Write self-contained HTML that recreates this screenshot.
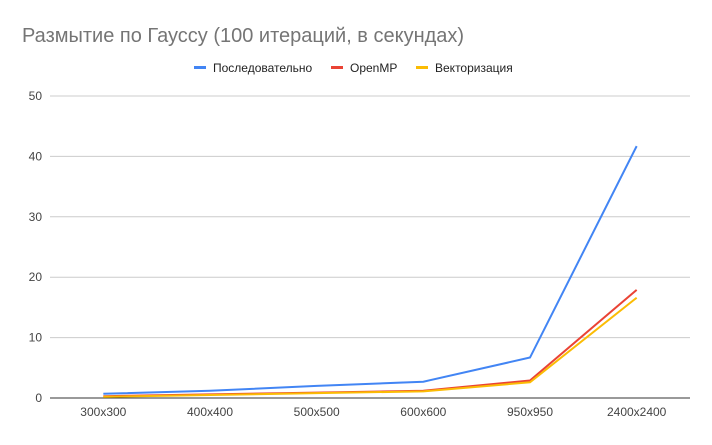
<!DOCTYPE html>
<html><head><meta charset="utf-8"><style>
body{margin:0;background:#fff;font-family:"Liberation Sans",Arial,sans-serif}
</style></head><body>
<svg width="712" height="440" xmlns="http://www.w3.org/2000/svg">
<rect width="712" height="440" fill="#fff"/>
<text x="22" y="42" font-size="20" fill="#757575" font-family="Liberation Sans, sans-serif">Размытие по Гауссу (100 итераций, в секундах)</text>
<g id="legend" font-size="12" fill="#222"></g>
<g id="grid"></g><g id="series"></g><g id="xlabels"></g>
</svg>
<script>
const categories=["300x300","400x400","500x500","600x600","950x950","2400x2400"];
const seqValues=[0.7,1.2,2.0,2.7,6.7,41.7];
const ompValues=[0.3,0.6,0.9,1.2,2.9,17.9];
const vecValues=[0.2,0.5,0.8,1.1,2.6,16.6];
const yTicks=[0,10,20,30,40,50];
const seriesNames=["Последовательно","OpenMP","Векторизация"];
const NS="http://www.w3.org/2000/svg";
const left=50,right=690,y0=398,y50=96;
const yS=v=>y0-(v/50)*(y0-y50);
const band=(right-left)/categories.length;
const xS=i=>left+band*(i+0.5);
function mk(t,a,p){const e=document.createElementNS(NS,t);for(const k in a)e.setAttribute(k,a[k]);p.appendChild(e);return e;}
const grid=document.getElementById('grid');
yTicks.forEach(t=>{
 const l=mk('line',{x1:left,x2:right,y1:yS(t),y2:yS(t),stroke:t===0?'#333':'#ccc','stroke-width':1},grid);
 
 
 const tx=mk('text',{x:42,y:yS(t)+4,'text-anchor':'end','font-size':12,fill:'#444'},grid);
 tx.textContent=t;
 
 
});
const xl=document.getElementById('xlabels');
categories.forEach((c,i)=>{
 const tx=mk('text',{x:xS(i),y:416,'text-anchor':'middle','font-size':12,fill:'#444'},xl);
 tx.textContent=c;
 
 
});
const colors=['#4285f4','#ea4335','#fbbc04'];
const data=[seqValues,ompValues,vecValues];
const sg=document.getElementById('series');
data.forEach((vals,k)=>{
 const p=mk('polyline',{points:vals.map((v,i)=>xS(i)+','+yS(v)).join(' '),fill:'none',stroke:colors[k],'stroke-width':2},sg);
 
 
});
const lg=document.getElementById('legend');
const lx=[194,331,416];
seriesNames.forEach((n,k)=>{
 const r=mk('rect',{x:lx[k],y:66,width:12,height:3,fill:colors[k]},lg);
 
 
 const t=mk('text',{x:lx[k]+19,y:72,'font-size':12,fill:'#222'},lg);
 t.textContent=n;
 
 
});
</script>
</body></html>
